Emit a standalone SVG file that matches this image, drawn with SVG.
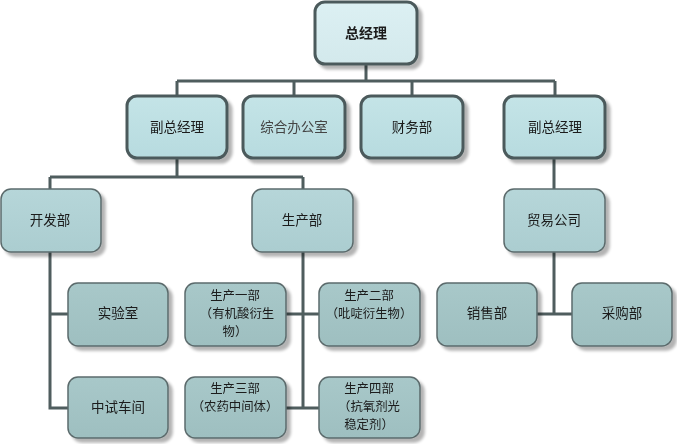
<svg xmlns="http://www.w3.org/2000/svg" width="677" height="444" viewBox="0 0 677 444">
<style>
  text { font-family: "Noto Sans CJK SC", "Liberation Sans", sans-serif; font-size: 13.5px; fill: #1a1a1a; text-anchor: middle; }
  .m { font-size: 12.4px; }
  .b0 { fill: url(#g0); stroke: #4c5a5b; stroke-width: 3; }
  .b1 { fill: url(#g1); stroke: #4c5a5b; stroke-width: 3; }
  .b2 { fill: url(#g2); stroke: #5b6b6c; stroke-width: 1.5; }
  .b3 { fill: url(#g3); stroke: #5b6b6c; stroke-width: 1.5; }
  .c { fill: none; stroke: #4f5d5e; stroke-width: 3; }
  .t0 { font-weight: bold; font-size: 14px; }
</style>
<defs>
  <linearGradient id="g0" x1="0" y1="0" x2="0" y2="1"><stop offset="0" stop-color="#dcf0f3"/><stop offset="1" stop-color="#d3e9ec"/></linearGradient>
  <linearGradient id="g1" x1="0" y1="0" x2="0" y2="1"><stop offset="0" stop-color="#c4e4e7"/><stop offset="1" stop-color="#b7dbdf"/></linearGradient>
  <linearGradient id="g2" x1="0" y1="0" x2="0" y2="1"><stop offset="0" stop-color="#b6d6d9"/><stop offset="1" stop-color="#abcdd0"/></linearGradient>
  <linearGradient id="g3" x1="0" y1="0" x2="0" y2="1"><stop offset="0" stop-color="#a8c8c9"/><stop offset="1" stop-color="#9ebfc0"/></linearGradient>
  <filter id="sh" x="-10%" y="-10%" width="130%" height="140%">
    <feGaussianBlur in="SourceAlpha" stdDeviation="1.5"/>
    <feOffset dx="4" dy="4" result="o"/>
    <feComponentTransfer><feFuncA type="linear" slope="0.3"/></feComponentTransfer>
    <feMerge><feMergeNode/><feMergeNode in="SourceGraphic"/></feMerge>
  </filter>
</defs>
<g id="connectors">
  <path class="c" d="M366,64 V81 M177,81 H555 M177,81 V96 M294,81 V96 M412,81 V96 M555,81 V96"/>
  <path class="c" d="M177,158 V177 M50,177 H303 M50,177 V189 M303,177 V189"/>
  <path class="c" d="M50,252 V408 H68 M50,314 H68"/>
  <path class="c" d="M303,252 V408 M286,314 H319 M286,408 H319"/>
  <path class="c" d="M554,158 V189 M554,252 V314 M537,314 H572"/>
</g>
<g id="n_zjl" filter="url(#sh)"><rect class="b0" x="315" y="2" width="102" height="62" rx="10"/><text class="t0" x="366" y="38">总经理</text></g>
<g id="n_fzjl1" filter="url(#sh)"><rect class="b1" x="127" y="96" width="100" height="62" rx="10"/><text x="177" y="132">副总经理</text></g>
<g id="n_zhbgs" filter="url(#sh)"><rect class="b1" x="243" y="96" width="102" height="62" rx="10"/><text x="294" y="132" style="fill:#444">综合办公室</text></g>
<g id="n_cwb" filter="url(#sh)"><rect class="b1" x="361" y="96" width="102" height="62" rx="10"/><text x="412" y="132">财务部</text></g>
<g id="n_fzjl2" filter="url(#sh)"><rect class="b1" x="504" y="96" width="101" height="62" rx="10"/><text x="555" y="132">副总经理</text></g>
<g id="n_kfb" filter="url(#sh)"><rect class="b2" x="1" y="189" width="100" height="63" rx="10"/><text x="50" y="225">开发部</text></g>
<g id="n_scb" filter="url(#sh)"><rect class="b2" x="252" y="189" width="101" height="63" rx="10"/><text x="302" y="225">生产部</text></g>
<g id="n_mygs" filter="url(#sh)"><rect class="b2" x="504" y="189" width="101" height="63" rx="10"/><text x="554" y="225">贸易公司</text></g>
<g id="n_sys" filter="url(#sh)"><rect class="b3" x="68" y="283" width="100" height="63" rx="10"/><text x="118" y="318">实验室</text></g>
<g id="n_zscj" filter="url(#sh)"><rect class="b3" x="68" y="377" width="100" height="61" rx="10"/><text x="118" y="412">中试车间</text></g>
<g id="n_sc1" filter="url(#sh)"><rect class="b3" x="185" y="283" width="101" height="63" rx="10"/><text class="m" x="235" y="300">生产一部</text><text class="m" x="237" y="318">（有机酸衍生</text><text class="m" x="235" y="336">物）</text></g>
<g id="n_sc2" filter="url(#sh)"><rect class="b3" x="319" y="283" width="101" height="63" rx="10"/><text class="m" x="369" y="300">生产二部</text><text class="m" x="369" y="318">（吡啶衍生物）</text></g>
<g id="n_sc3" filter="url(#sh)"><rect class="b3" x="185" y="377" width="101" height="61" rx="10"/><text class="m" x="235" y="393">生产三部</text><text class="m" x="235" y="411">（农药中间体）</text></g>
<g id="n_sc4" filter="url(#sh)"><rect class="b3" x="319" y="377" width="101" height="61" rx="10"/><text class="m" x="369" y="393">生产四部</text><text class="m" x="369" y="411">（抗氧剂光</text><text class="m" x="369" y="429">稳定剂）</text></g>
<g id="n_xsb" filter="url(#sh)"><rect class="b3" x="437" y="283" width="100" height="63" rx="10"/><text x="487" y="318">销售部</text></g>
<g id="n_cgb" filter="url(#sh)"><rect class="b3" x="572" y="283" width="100" height="63" rx="10"/><text x="622" y="318">采购部</text></g>
</svg>
